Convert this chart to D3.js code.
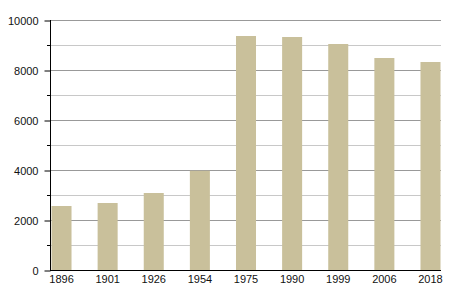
<!DOCTYPE html>
<meta charset="utf-8">
<style>
body { margin: 0; background: #fff; }
text { font-family: "Liberation Sans", Arial, sans-serif; font-size: 11px; fill: #111; }
</style>
<svg width="450" height="300"></svg>
<script src="https://d3js.org/d3.v7.min.js"></script>
<script>
var years = ["1896", "1901", "1926", "1954", "1975", "1990", "1999", "2006", "2018"];
var population = [2560, 2680, 3080, 3970, 9360, 9320, 9040, 8480, 8320];
var majorTicks = [0, 2000, 4000, 6000, 8000, 10000];
var minorTicks = [1000, 3000, 5000, 7000, 9000];

var svg = d3.select("svg"),
    plotLeft = 50, plotRight = 441, plotTop = 20, plotBottom = 270;

var x = d3.scaleBand().domain(years).range([51.5, 440.5])
    .paddingInner(0.566).paddingOuter(0).align(0);
var y = d3.scaleLinear().domain([0, 10000]).range([plotBottom, plotTop]);

// grid
svg.append("g").selectAll("line").data(minorTicks).enter().append("line")
    .attr("x1", plotLeft).attr("x2", plotRight)
    .attr("y1", function(d) { return y(d) + 0.5; })
    .attr("y2", function(d) { return y(d) + 0.5; })
    .attr("stroke", "#c8c8c8");
svg.append("g").selectAll("line").data(majorTicks.slice(1)).enter().append("line")
    .attr("x1", plotLeft).attr("x2", plotRight)
    .attr("y1", function(d) { return y(d) + 0.5; })
    .attr("y2", function(d) { return y(d) + 0.5; })
    .attr("stroke", "#999");

// bars
svg.append("g").selectAll("rect").data(years).enter().append("rect")
    .attr("x", function(d) { return x(d); })
    .attr("width", x.bandwidth())
    .attr("y", function(d, i) { return y(population[i]); })
    .attr("height", function(d, i) { return plotBottom - y(population[i]); })
    .attr("fill", "#c9c09b");

// y axis
var yAxis = svg.append("g").attr("transform", "translate(" + (plotLeft + 0.5) + ",0.5)")
    .call(d3.axisLeft(y).tickValues(majorTicks).tickSize(6).tickPadding(6).tickFormat(d3.format("d")));
yAxis.select(".domain").attr("stroke", "#000").attr("d", "M0," + (plotTop - 0.5) + "V" + plotBottom);
yAxis.attr("font-family", null).attr("font-size", null);
svg.append("g").selectAll("line").data(minorTicks).enter().append("line")
    .attr("x1", plotLeft - 3).attr("x2", plotLeft)
    .attr("y1", function(d) { return y(d) + 0.5; })
    .attr("y2", function(d) { return y(d) + 0.5; })
    .attr("stroke", "#000");

// x axis
var xAxis = svg.append("g").attr("transform", "translate(0," + (plotBottom + 0.5) + ")")
    .call(d3.axisBottom(x).tickSize(0).tickPadding(5));
xAxis.select(".domain").attr("stroke", "#000").attr("stroke-width", 1.2).attr("d", "M" + plotLeft + ",0H" + plotRight);
xAxis.attr("font-family", null).attr("font-size", null);
</script>
